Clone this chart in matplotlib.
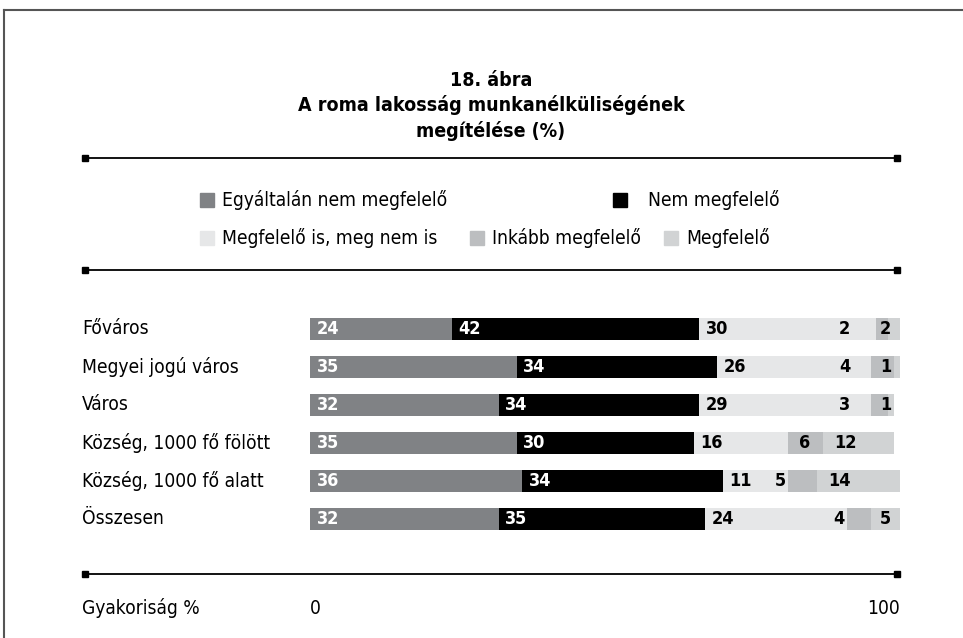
import numpy as np
import matplotlib.pyplot as plt
from matplotlib.lines import Line2D

plt.rcParams['font.family'] = ['DejaVu Sans']
plt.rcParams['font.stretch'] = 'condensed'

# Adatok
kategoriak = ['Főváros', 'Megyei jogú város', 'Város',
              'Község, 1000 fő fölött', 'Község, 1000 fő alatt', 'Összesen']
egyaltalan_nem = [24, 35, 32, 35, 36, 32]
nem_megfelelo = [42, 34, 34, 30, 34, 35]
is_is = [30, 26, 29, 16, 11, 24]
inkabb = [2, 4, 3, 6, 5, 4]
megfelelo = [2, 1, 1, 12, 14, 5]

sorozatok = ['Egyáltalán nem megfelelő', 'Nem megfelelő',
             'Megfelelő is, meg nem is', 'Inkább megfelelő', 'Megfelelő']
szinek = ['#808285', '#000000', '#e6e7e8', '#bcbec0', '#d1d3d4']
cimke_szin = ['white', 'white', 'black', 'black', 'black']

W, H = 963, 638
fig = plt.figure(figsize=(W / 100, H / 100), dpi=100)

def fx(px):
    return px / W

def fy(py):
    return 1 - py / H

# keret
fig.add_artist(Line2D([fx(4), fx(4)], [fy(10), fy(640)], color='#555555', lw=1.5))
fig.add_artist(Line2D([fx(4), fx(965)], [fy(10), fy(10)], color='#555555', lw=1.5))

# cím
for sor, y in [('18. ábra', 86), ('A roma lakosság munkanélküliségének', 111),
               ('megítélése (%)', 137)]:
    fig.text(fx(491), fy(y), sor, ha='center', va='baseline',
             fontsize=14, fontweight='bold')

# elválasztó vonalak
for y in (158, 270, 574):
    fig.add_artist(Line2D([fx(85), fx(897)], [fy(y), fy(y)], color='black',
                          lw=1.3, marker='s', markersize=4.5, markevery=[0, 1]))

# jelmagyarázat
leg = [(200, 200, 0), (613, 200, 1), (200, 238, 2), (470, 238, 3), (664, 238, 4)]
for x, y, i in leg:
    fig.patches.append(plt.Rectangle((fx(x), fy(y + 7)), 14 / W, 14 / H,
                                     transform=fig.transFigure, color=szinek[i]))
    fig.text(fx(x + 22 if i != 1 else x + 35), fy(y), sorozatok[i], ha='left',
             va='center', fontsize=13.8)

# oszlopok
ax = fig.add_axes([fx(310), fy(538), (900 - 310) / W, 228 / H])
adat = np.array([egyaltalan_nem, nem_megfelelo, is_is, inkabb, megfelelo])
y_pos = np.arange(len(kategoriak))
bal = np.zeros(len(kategoriak))
for i in range(len(sorozatok)):
    ax.barh(y_pos, adat[i], left=bal, height=0.58, color=szinek[i], lw=0)
    for j in range(len(kategoriak)):
        v = adat[i][j]
        kw = dict(va='center', fontsize=13, fontweight='bold', color=cimke_szin[i])
        if i < 3:
            ax.text(bal[j] + 1.1, j, str(v), ha='left', **kw)
        elif i == 3:
            if v >= 6:
                ax.text(bal[j] + 1.8, j, str(v), ha='left', **kw)
            else:
                ax.text(min(bal[j], 92) - 0.4, j, str(v), ha='right', **kw)
        else:
            if v >= 10:
                ax.text(bal[j] + 1.8, j, str(v), ha='left', **kw)
            else:
                ax.text(98.5, j, str(v), ha='right', **kw)
    bal += adat[i]

ax.set_xlim(0, 100)
ax.set_ylim(5.5, -0.5)
ax.axis('off')

for j, k in enumerate(kategoriak):
    fig.text(fx(82), fy(329 + 38 * j), k, ha='left', va='center', fontsize=13.8)

# tengely
fig.text(fx(82), fy(608), 'Gyakoriság %', ha='left', va='center', fontsize=13.8)
fig.text(fx(310), fy(608), '0', ha='left', va='center', fontsize=13.8)
fig.text(fx(900), fy(608), '100', ha='right', va='center', fontsize=13.8)

fig.savefig('out.png', dpi=100)
